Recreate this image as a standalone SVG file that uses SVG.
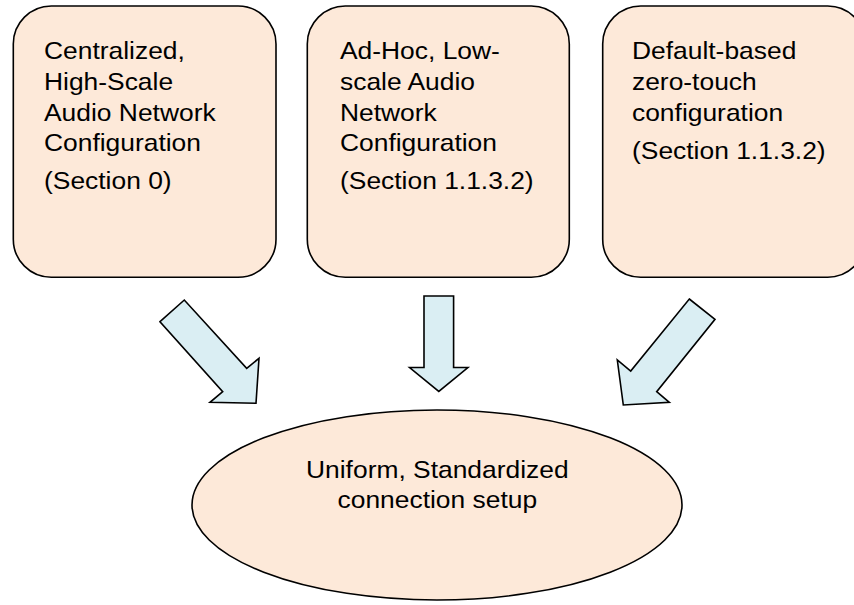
<svg xmlns="http://www.w3.org/2000/svg" width="854" height="605" viewBox="0 0 854 605">
<style>
.box{fill:#FDE9D9;stroke:#000;stroke-width:1.6}
.arr{fill:#DAEEF3;stroke:#000;stroke-width:1.6;stroke-linejoin:miter}
.t{font-family:"Liberation Sans",Arial,sans-serif;font-size:24px;fill:#000}
</style>
<rect width="854" height="605" fill="#fff"/>
<g id="node-centralized">
<rect class="box" x="13.3" y="6" width="262.7" height="271.3" rx="38" ry="38"/>
<g transform="translate(44,0) scale(1.1,1)">
<text class="t"><tspan x="0" y="59.3">Centralized,</tspan><tspan x="0" y="90">High-Scale</tspan><tspan x="0" y="120.7">Audio Network</tspan><tspan x="0" y="151.4">Configuration</tspan><tspan x="0" y="189">(Section 0)</tspan></text>
</g>
</g>
<g id="node-adhoc">
<rect class="box" x="307.3" y="6" width="262" height="271.3" rx="38" ry="38"/>
<g transform="translate(340,0) scale(1.1,1)">
<text class="t"><tspan x="0" y="59.3">Ad-Hoc, Low-</tspan><tspan x="0" y="90">scale Audio</tspan><tspan x="0" y="120.7">Network</tspan><tspan x="0" y="151.4">Configuration</tspan><tspan x="0" y="189">(Section 1.1.3.2)</tspan></text>
</g>
</g>
<g id="node-default">
<rect class="box" x="602.7" y="6" width="263" height="271.3" rx="38" ry="38"/>
<g transform="translate(632,0) scale(1.1,1)">
<text class="t"><tspan x="0" y="59.3">Default-based</tspan><tspan x="0" y="90">zero-touch</tspan><tspan x="0" y="120.7">configuration</tspan><tspan x="0" y="159">(Section 1.1.3.2)</tspan></text>
</g>
</g>
<g id="node-uniform">
<ellipse class="box" cx="437" cy="505" rx="245" ry="95"/>
<g transform="translate(437.3,0) scale(1.1,1)">
<text class="t" text-anchor="middle"><tspan x="0" y="478.3">Uniform, Standardized</tspan><tspan x="0" y="508.3">connection setup</tspan></text>
</g>
</g>
<g id="connectors">
<polygon class="arr" points="160,321.7 184.3,300 246.7,368.3 259,358.3 256,403.3 210,402.3 222.7,391.7"/>
<polygon class="arr" points="424,296 453.6,296 453.6,367.5 467.9,367.5 438.8,391.4 409.6,367.5 424,367.5"/>
<polygon class="arr" points="689.3,299 715,319.3 656.7,391.7 669.3,402.3 623.3,405 617.3,360 630.7,371"/>
</g>
</svg>
